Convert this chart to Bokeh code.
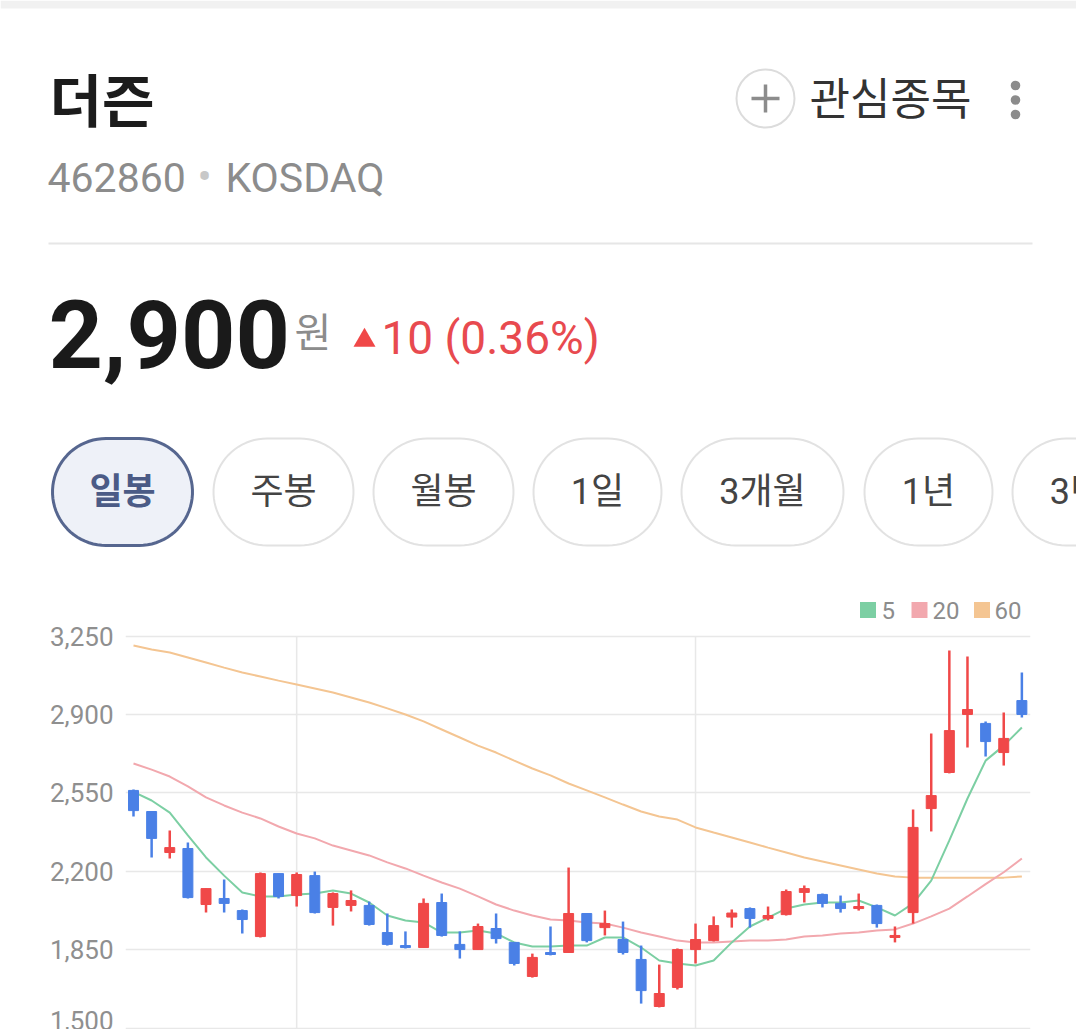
import numpy as np
from bokeh.plotting import figure
from bokeh.models import Range1d, FixedTicker, NumeralTickFormatter, ColumnDataSource
from bokeh.layouts import column
from bokeh.core.properties import value
from bokeh.embed import file_html
from bokeh.resources import INLINE

# ---------------- data ----------------
day = list(range(1, 51))
open_ = [2561, 2467, 2284, 2302, 2052, 2079, 2025, 1909, 2190, 2092,
         2181, 2039, 2048, 2048, 1927, 1869, 1860, 2061, 1874, 1851,
         1945, 1883, 1731, 1838, 1838, 2012, 1949, 1896, 1807, 1597,
         1682, 1851, 1891, 1996, 2034, 1990, 2007, 2106, 2097, 2057,
         2034, 2048, 1905, 2016, 2480, 2641, 2900, 2860, 2730, 2962]
high = [2565, 2467, 2382, 2329, 2123, 2164, 2030, 2195, 2190, 2195,
        2199, 2106, 2115, 2065, 2012, 1932, 2079, 2101, 1932, 1967,
        2012, 1883, 1833, 1954, 2217, 2012, 2025, 1976, 1869, 1784,
        1856, 1967, 1999, 2030, 2039, 2043, 2119, 2137, 2101, 2092,
        2101, 2052, 1954, 2476, 2815, 3185, 3158, 2869, 2909, 3087]
low = [2445, 2262, 2257, 2079, 2016, 2016, 1923, 1905, 2079, 2043,
       2012, 1958, 2021, 1958, 1869, 1856, 1860, 1909, 1811, 1851,
       1878, 1780, 1726, 1825, 1838, 1883, 1914, 1829, 1610, 1593,
       1673, 1789, 1887, 1949, 1949, 1981, 2003, 2061, 2039, 2016,
       2025, 1949, 1883, 1967, 2378, 2637, 2753, 2712, 2672, 2886]
close = [2471, 2347, 2306, 2083, 2123, 2057, 1985, 2190, 2088, 2186,
         2016, 2101, 2070, 1963, 1874, 1860, 2057, 1914, 1851, 1954,
         1900, 1789, 1816, 1829, 2012, 1891, 1967, 1838, 1668, 1655,
         1851, 1896, 1958, 2014, 1990, 2003, 2110, 2123, 2057, 2034,
         2043, 1967, 1914, 2396, 2538, 2828, 2922, 2779, 2793, 2900]
ma5 = [2555, 2516, 2462, 2360, 2262, 2181, 2106, 2088, 2088, 2097,
       2101, 2115, 2101, 2061, 2003, 1981, 1972, 1927, 1927, 1936,
       1923, 1883, 1865, 1865, 1869, 1869, 1905, 1905, 1860, 1802,
       1789, 1780, 1802, 1883, 1954, 1994, 2034, 2052, 2061, 2061,
       2070, 2039, 2003, 2057, 2159, 2338, 2525, 2694, 2761, 2842]
ma20 = [2681, 2654, 2623, 2579, 2530, 2494, 2462, 2436, 2400, 2369,
        2347, 2315, 2293, 2271, 2240, 2213, 2181, 2150, 2123, 2088,
        2052, 2025, 2003, 1985, 1981, 1972, 1967, 1949, 1927, 1909,
        1891, 1883, 1883, 1887, 1891, 1891, 1896, 1909, 1914, 1923,
        1927, 1936, 1941, 1967, 1999, 2034, 2088, 2143, 2196, 2257]
ma60 = [3208, 3190, 3176, 3154, 3132, 3109, 3087, 3069, 3051, 3034,
        3016, 2998, 2976, 2953, 2927, 2900, 2869, 2833, 2797, 2761,
        2730, 2694, 2659, 2628, 2592, 2561, 2530, 2498, 2467, 2445,
        2431, 2396, 2373, 2351, 2329, 2306, 2284, 2262, 2244, 2226,
        2208, 2190, 2177, 2172, 2172, 2172, 2172, 2172, 2172, 2177]
price_ticks = [1500, 1850, 2200, 2550, 2900, 3250]
month_ticks = [10, 32]
legend_labels = ["5", "20", "60"]
periods = ["일봉", "주봉", "월봉", "1일", "3개월", "1년", "3년"]

stock_name = "더즌"
stock_code = "462860"
market = "KOSDAQ"
last_price = "2,900"
change_text = "10 (0.36%)"

# ---------------- styles ----------------
RED = "#f04848"
BLUE = "#4a80e6"
C_MA5 = "#7ccfa3"
C_MA20 = "#f2a8ae"
C_MA60 = "#f4c592"
GRID = "#e8e8e8"
GRAY = "#8c8c8c"
LATIN = "Roboto"
KR = "Roboto, Noto Sans CJK KR"
W = 1076
H_HDR = 622
H_CH = 407

# ---------------- header figure (pixel space) ----------------
hdr = figure(width=W, height=H_HDR, x_range=Range1d(0, W), y_range=Range1d(H_HDR, 0),
             output_backend="svg", toolbar_location=None, min_border=0,
             x_axis_location=None, y_axis_location=None, frame_align=False)
hdr.grid.visible = False
hdr.outline_line_color = None

# status strip at the very top
hdr.quad(left=[0], right=[W], top=[0], bottom=[8], fill_color="#f1f1f1", line_color=None)

hdr.text(x=[49], y=[96], text=[stock_name], text_font=value("Noto Sans CJK KR"),
         text_font_style="bold", text_font_size="57px", text_color="#1c1c1c",
         text_baseline="middle", text_align="left")
hdr.text(x=[47], y=[177], text=[stock_code], text_font=value(LATIN),
         text_font_size="41px", text_color=GRAY, text_baseline="middle")
hdr.text(x=[204], y=[176], text=["•"], text_font=value(LATIN),
         text_font_size="42px", text_color="#c8c8c8", text_baseline="middle", text_align="center")
hdr.text(x=[225], y=[177], text=[market], text_font=value(LATIN),
         text_font_size="41px", text_color=GRAY, text_baseline="middle")

# watchlist button
hdr.circle(x=[765], y=[98], radius=29, fill_color=None, line_color="#dcdcdc", line_width=2)
hdr.segment(x0=[751, 765], y0=[98, 84], x1=[779, 765], y1=[98, 112], line_color=GRAY, line_width=3.5)
hdr.text(x=[809], y=[95], text=["관심종목"], text_font=value("Noto Sans CJK KR"),
         text_font_size="44px", text_color="#333333", text_baseline="middle")
hdr.circle(x=[1015, 1015, 1015], y=[85, 99.5, 114], radius=4.8, fill_color=GRAY, line_color=None)

# separator
hdr.segment(x0=[48], y0=[243], x1=[1032], y1=[243], line_color="#e6e6e6", line_width=2)

# price line
hdr.text(x=[48], y=[333], text=[last_price], text_font=value(LATIN), text_font_style="bold",
         text_font_size="95px", text_color="#1a1a1a", text_baseline="middle")
hdr.text(x=[294], y=[329], text=["원"], text_font=value("Noto Sans CJK KR"),
         text_font_size="40px", text_color=GRAY, text_baseline="middle")
hdr.scatter(x=[364], y=[340], marker="triangle", size=22, fill_color=RED, line_color=None)
hdr.text(x=[381], y=[337], text=[change_text], text_font=value(LATIN),
         text_font_size="46px", text_color="#e84a4f", text_baseline="middle")

# period buttons
def pill(x0, x1, cy, r, n=40):
    t1 = np.linspace(np.pi / 2, 3 * np.pi / 2, n)
    xs = list(x0 + r + r * np.cos(t1))
    ys = list(cy - r * np.sin(t1))
    t2 = np.linspace(-np.pi / 2, np.pi / 2, n)
    xs += list(x1 - r + r * np.cos(t2))
    ys += list(cy - r * np.sin(t2))
    return xs, ys

btn_edges = [(52, 192), (213, 353), (373, 513), (533, 661), (681, 843), (864, 992), (1012, 1140)]
BCY, BR = 491.5, 53.5
for i, (lab, (x0, x1)) in enumerate(zip(periods, btn_edges)):
    xs, ys = pill(x0, x1, BCY, BR)
    if i == 0:
        hdr.patch(xs, ys, fill_color="#eef1f8", line_color="#56668f", line_width=3)
        hdr.text(x=[(x0 + x1) / 2], y=[BCY], text=[lab], text_font=value(KR), text_font_style="bold",
                 text_font_size="36px", text_color="#4b5b86", text_align="center", text_baseline="middle")
    else:
        hdr.patch(xs, ys, fill_color="white", line_color="#e2e2e2", line_width=2)
        hdr.text(x=[(x0 + x1) / 2], y=[BCY], text=[lab], text_font=value(KR),
                 text_font_size="36px", text_color="#444444", text_align="center", text_baseline="middle")

# legend
hdr.scatter(x=[867.5, 919, 981.5], y=[609.5] * 3, marker="square", size=16,
            fill_color=[C_MA5, C_MA20, C_MA60], line_color=None)
hdr.text(x=[881, 932, 994], y=[609.5] * 3, text=legend_labels, text_font=value(LATIN),
         text_font_size="24px", text_color=GRAY, text_baseline="middle")

# ---------------- chart figure ----------------
S = 18.13
FL, FR, FT = 125, 1030, 622          # frame edges in page pixels
x_start = 1 - (133 - FL) / S
x_end = x_start + (FR - FL) / S
K = 350 / 78.45
y_top = 3250 + (635.5 - FT) * K
y_bot = 3250 - (FT + H_CH - 635.5) * K

ch = figure(width=W, height=H_CH, x_range=Range1d(x_start, x_end), y_range=Range1d(y_bot, y_top),
            output_backend="svg", toolbar_location=None, x_axis_location=None, frame_align=False,
            min_border_left=FL, min_border_right=W - FR, min_border_top=0, min_border_bottom=0)
ch.outline_line_color = None
ch.xgrid.visible = False
ch.yaxis.ticker = FixedTicker(ticks=price_ticks)
ch.yaxis.formatter = NumeralTickFormatter(format="0,0")
ch.yaxis.axis_line_color = None
ch.yaxis.major_tick_line_color = None
ch.yaxis.minor_tick_line_color = None
ch.yaxis.major_tick_out = 0
ch.yaxis.major_tick_in = 0
ch.yaxis.major_label_standoff = 12
ch.yaxis.major_label_text_font = LATIN
ch.yaxis.major_label_text_font_size = "26px"
ch.yaxis.major_label_text_color = "#8f8f8f"
ch.ygrid.ticker = FixedTicker(ticks=price_ticks)
ch.ygrid.grid_line_color = GRID
ch.ygrid.grid_line_width = 1.5

# month separators (from the bottom up to the top price gridline)
ch.segment(x0=month_ticks, x1=month_ticks, y0=[y_bot] * len(month_ticks),
           y1=[price_ticks[-1]] * len(month_ticks), line_color=GRID, line_width=1.5)

ch.line(day, ma60, line_color=C_MA60, line_width=2)
ch.line(day, ma20, line_color=C_MA20, line_width=2)
ch.line(day, ma5, line_color=C_MA5, line_width=2)

colors = [RED if c >= o else BLUE for o, c in zip(open_, close)]
src = ColumnDataSource(dict(
    day=day, high=high, low=low,
    top=[max(o, c) for o, c in zip(open_, close)],
    bot=[min(o, c) for o, c in zip(open_, close)],
    color=colors))
ch.segment(x0="day", x1="day", y0="low", y1="high", line_color="color", line_width=2.5, source=src)
ch.vbar(x="day", width=0.55, top="top", bottom="bot", fill_color="color", line_color="color",
        line_width=1, source=src)

layout = column(hdr, ch, spacing=0)
open("out.html", "w").write(file_html(layout, INLINE))
